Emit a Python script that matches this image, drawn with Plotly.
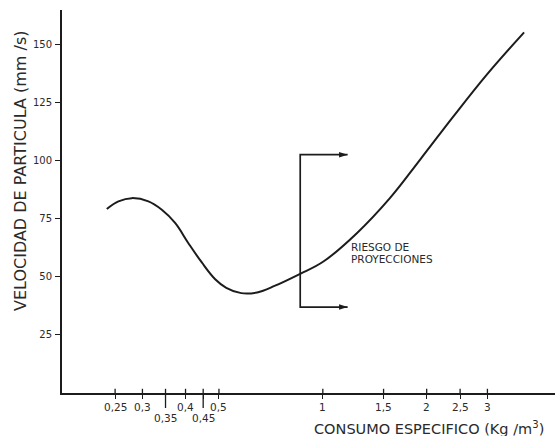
import math
import plotly.graph_objects as go

# Curva velocidad de partícula vs consumo específico
consumo = [0.2365, 0.2556, 0.2795, 0.3122, 0.3415, 0.3731, 0.4077, 0.4459,
           0.4875, 0.5250, 0.5800, 0.6450, 0.7275, 0.8595, 1.004, 1.255,
           1.567, 1.915, 2.391, 2.988, 3.832]
velocidad = [79.2, 82.5, 83.9, 82.5, 78.9, 73.2, 64.5, 56.2,
             49.0, 45.3, 43.0, 43.3, 46.2, 51.3, 56.6, 68.8,
             84.0, 100.5, 119.1, 137.1, 155.3]

x_ticks = [0.25, 0.3, 0.35, 0.4, 0.45, 0.5, 1, 1.5, 2, 2.5, 3]
x_labels = ["0,25", "0,3", "0,35", "0,4", "0,45", "0,5", "1", "1,5", "2", "2,5", "3"]
x_lowered = [0.35, 0.45]
y_ticks = [25, 50, 75, 100, 125, 150]

# Zona de riesgo de proyecciones
riesgo_x = 0.86
riesgo_x_fin = 1.18
riesgo_sup = 102.6
riesgo_inf = 37.0
riesgo_lineas = ["RIESGO DE", "PROYECCIONES"]

INK = "#1c1c1c"
TXT = "#2a2a2a"
FONT = "DejaVu Sans"

W, H = 555, 436
L, R, T, B = 62, 0, 10, 43
pw, ph = W - L - R, H - T - B

fig = go.Figure()
fig.add_trace(go.Scatter(
    x=consumo, y=velocidad, mode="lines",
    line=dict(color=INK, width=2, shape="spline", smoothing=1.1),
    hoverinfo="skip", showlegend=False,
))

# Corchete de la zona de riesgo: tramo vertical y dos flechas horizontales
fig.add_trace(go.Scatter(
    x=[riesgo_x_fin, riesgo_x, riesgo_x, riesgo_x_fin],
    y=[riesgo_sup, riesgo_sup, riesgo_inf, riesgo_inf],
    mode="lines", line=dict(color=INK, width=1.7),
    hoverinfo="skip", showlegend=False,
))
fig.add_trace(go.Scatter(
    x=[riesgo_x_fin, riesgo_x_fin], y=[riesgo_sup, riesgo_inf],
    mode="markers",
    marker=dict(symbol="arrow", angle=90, size=9, color=INK,
                line=dict(width=0)),
    hoverinfo="skip", showlegend=False,
))

fig.update_layout(
    width=W, height=H,
    margin=dict(l=L, r=R, t=T, b=B),
    paper_bgcolor="white", plot_bgcolor="white",
    font=dict(family=FONT, color=TXT, size=10),
    xaxis=dict(
        type="log", range=[-0.756, 0.673],
        tickvals=x_ticks, showticklabels=False,
        ticks="outside", ticklen=4, tickwidth=1.3, tickcolor=INK,
        showline=True, linewidth=2, linecolor=INK,
        showgrid=False, zeroline=False,
    ),
    yaxis=dict(
        range=[0, 164.9],
        tickvals=y_ticks,
        ticks="outside", ticklen=5, tickwidth=1.3, tickcolor=INK,
        showline=True, linewidth=2, linecolor=INK,
        showgrid=False, zeroline=False,
        tickfont=dict(size=10, color=TXT, family=FONT),
        ticklabelstandoff=1,
    ),
)

# Marcas que cruzan el eje X por arriba y etiquetas de graduación
for v, t in zip(x_ticks, x_labels):
    fig.add_shape(type="line", xref="x", yref="paper",
                  x0=v, x1=v, y0=0, y1=0.011,
                  line=dict(color=INK, width=1.3))
    bajo = v in x_lowered
    if bajo:
        fig.add_shape(type="line", xref="x", yref="paper",
                      x0=v, x1=v, y0=0, y1=-15 / ph,
                      line=dict(color=INK, width=1.3))
    fig.add_annotation(
        x=math.log10(v), y=0, xref="x", yref="paper",
        text=t, showarrow=False, xanchor="center", yanchor="middle",
        yshift=-25 if bajo else -14,
        font=dict(size=10.5, color=TXT, family=FONT),
    )

# Texto de la zona de riesgo
for i, linea in enumerate(riesgo_lineas):
    fig.add_annotation(
        x=math.log10(riesgo_x_fin), y=0, xref="x", yref="paper",
        text=linea, showarrow=False, xanchor="left", yanchor="middle",
        xshift=1, yshift=(H - B - (247 + 11.5 * i)),
        font=dict(size=10.5, color=TXT, family=FONT),
    )

# Títulos de los ejes
fig.add_annotation(
    x=(429 - L) / pw, y=(H - B - 428) / ph, xref="paper", yref="paper",
    text="CONSUMO ESPECIFICO (Kg /m<sup>3</sup>)", showarrow=False,
    xanchor="center", yanchor="middle",
    font=dict(size=14.5, color=TXT, family=FONT),
)
fig.add_annotation(
    x=(20 - L) / pw, y=(H - B - 171) / ph, xref="paper", yref="paper",
    text="VELOCIDAD DE PARTICULA (mm /s)", showarrow=False, textangle=-90,
    xanchor="center", yanchor="middle",
    font=dict(size=16, color=TXT, family=FONT),
)

fig.write_html("out.html")
